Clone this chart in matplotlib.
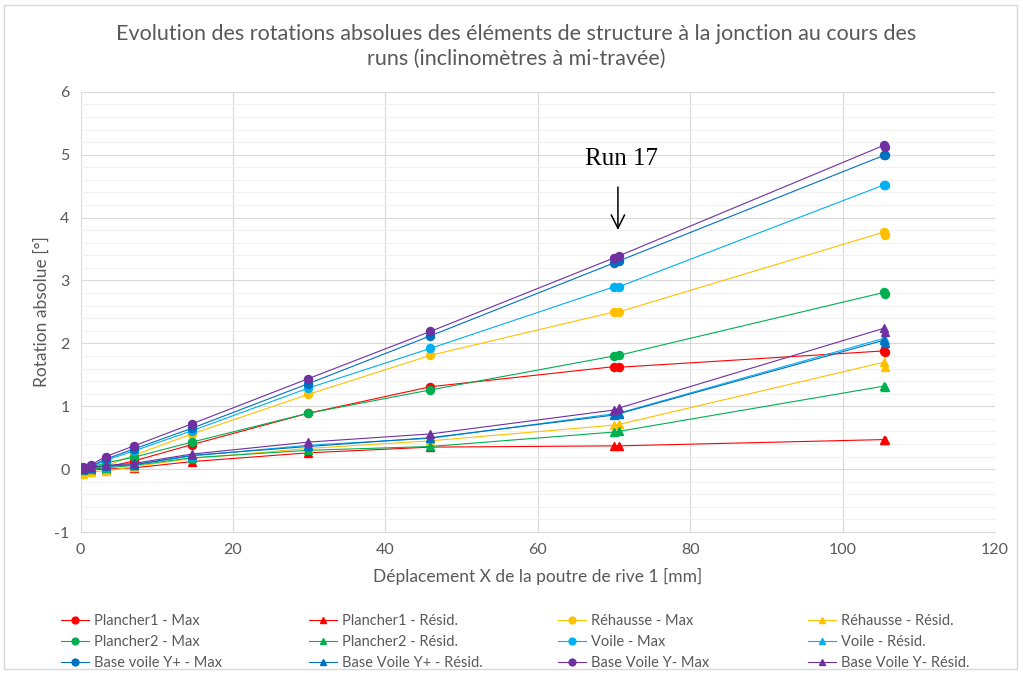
import matplotlib.pyplot as plt
from matplotlib.patches import Rectangle
from matplotlib.ticker import MultipleLocator

plt.rcParams['font.family'] = ['Lato', 'DejaVu Sans']
plt.rcParams['axes.unicode_minus'] = False

# déplacement X (mm) des runs
x = [0.3, 1.4, 3.3, 7.0, 14.6, 29.9, 45.9, 70.0, 70.6, 105.4, 105.5]

plancher1_max = [0.00, 0.01, 0.03, 0.13, 0.39, 0.89, 1.31, 1.63, 1.62, 1.88, 1.86]
plancher1_resid = [-0.02, -0.01, 0.00, 0.02, 0.12, 0.26, 0.35, 0.37, 0.37, 0.47, 0.46]
rehausse_max = [-0.05, -0.02, 0.05, 0.22, 0.56, 1.19, 1.81, 2.50, 2.50, 3.77, 3.73]
rehausse_resid = [-0.07, -0.04, -0.03, 0.04, 0.17, 0.33, 0.45, 0.70, 0.71, 1.70, 1.62]
plancher2_max = [0.01, 0.03, 0.10, 0.19, 0.43, 0.89, 1.26, 1.80, 1.81, 2.81, 2.78]
plancher2_resid = [-0.01, 0.00, 0.02, 0.06, 0.18, 0.30, 0.36, 0.59, 0.60, 1.32, 1.31]
voile_max = [0.02, 0.04, 0.14, 0.29, 0.61, 1.29, 1.92, 2.90, 2.90, 4.52, 4.52]
voile_resid = [0.00, 0.02, 0.04, 0.07, 0.21, 0.38, 0.49, 0.88, 0.89, 2.08, 2.05]
base_yp_max = [0.02, 0.05, 0.16, 0.32, 0.65, 1.36, 2.12, 3.28, 3.31, 4.99, 4.99]
base_yp_resid = [0.00, 0.02, 0.05, 0.07, 0.22, 0.36, 0.50, 0.86, 0.88, 2.05, 2.00]
base_ym_max = [0.03, 0.07, 0.20, 0.37, 0.72, 1.44, 2.19, 3.36, 3.39, 5.15, 5.13]
base_ym_resid = [0.01, 0.03, 0.06, 0.09, 0.24, 0.43, 0.56, 0.94, 0.97, 2.24, 2.18]

series = [
    ("Plancher1 - Max", plancher1_max, "#FF0000", "o"),
    ("Plancher1 - Résid.", plancher1_resid, "#FF0000", "^"),
    ("Réhausse - Max", rehausse_max, "#FFC000", "o"),
    ("Réhausse - Résid.", rehausse_resid, "#FFC000", "^"),
    ("Plancher2 - Max", plancher2_max, "#00B050", "o"),
    ("Plancher2 - Résid.", plancher2_resid, "#00B050", "^"),
    ("Voile - Max", voile_max, "#00B0F0", "o"),
    ("Voile - Résid.", voile_resid, "#00B0F0", "^"),
    ("Base voile Y+ - Max", base_yp_max, "#0070C0", "o"),
    ("Base Voile Y+ - Résid.", base_yp_resid, "#0070C0", "^"),
    ("Base Voile Y- Max", base_ym_max, "#7030A0", "o"),
    ("Base Voile Y- Résid.", base_ym_resid, "#7030A0", "^"),
]

fig = plt.figure(figsize=(10.23, 6.73), dpi=100)
ax = fig.add_axes([0.0788, 0.2095, 0.894, 0.654])

handles = []
for label, vals, col, mk in series:
    h, = ax.plot(x, vals, color=col, lw=0.8, marker=mk, markersize=5.8, label=label)
    handles.append(h)

ax.set_xlim(0, 120)
ax.set_ylim(-1, 6)
ax.xaxis.set_major_locator(MultipleLocator(20))
ax.yaxis.set_major_locator(MultipleLocator(1))
ax.yaxis.set_minor_locator(MultipleLocator(0.2))
ax.grid(which='major', color='#D9D9D9', lw=0.8)
ax.grid(which='minor', axis='y', color='#F0F0F0', lw=0.8)
ax.set_axisbelow(True)
for s in ['top', 'right', 'left']:
    ax.spines[s].set_visible(False)
ax.spines['bottom'].set_color('#D9D9D9')
ax.tick_params(which='both', length=0, labelsize=11.5, labelcolor='#595959', pad=8)

ax.set_xlabel("Déplacement X de la poutre de rive 1 [mm]", fontsize=12.5, color='#595959', labelpad=8)
ax.set_ylabel("Rotation absolue [°]", fontsize=12.5, color='#595959', labelpad=3)

fig.text(0.505, 0.965, "Evolution des rotations absolues des éléments de structure à la jonction au cours des\nruns (inclinomètres à mi-travée)",
         ha='center', va='top', fontsize=15.5, color='#595959', linespacing=1.35)

ax.annotate("", xy=(70.5, 3.76), xytext=(70.5, 4.53),
            arrowprops=dict(arrowstyle='->', color='black', lw=1.1, mutation_scale=24))
ax.text(71.0, 4.94, "Run 17", ha='center', va='center', fontsize=18,
        family='Liberation Serif', color='black')

# légende Excel : 4 colonnes à largeur fixe
col_x = [0.0495, 0.2919, 0.5353, 0.7797]
for c in range(4):
    idx = [c, c + 4, c + 8]
    fig.legend([handles[i] for i in idx], [series[i][0] for i in idx],
               loc='upper left', bbox_to_anchor=(col_x[c], 0.103), ncol=1, frameon=False,
               fontsize=10.5, labelcolor='#595959', handlelength=1.9, handletextpad=0.4,
               labelspacing=0.5, markerscale=0.85, borderpad=0.2)

fig.patches.append(Rectangle((0.004, 0.006), 0.99, 0.987, transform=fig.transFigure,
                             fill=False, edgecolor='#D9D9D9', lw=1))

fig.savefig("out.png", dpi=100)
